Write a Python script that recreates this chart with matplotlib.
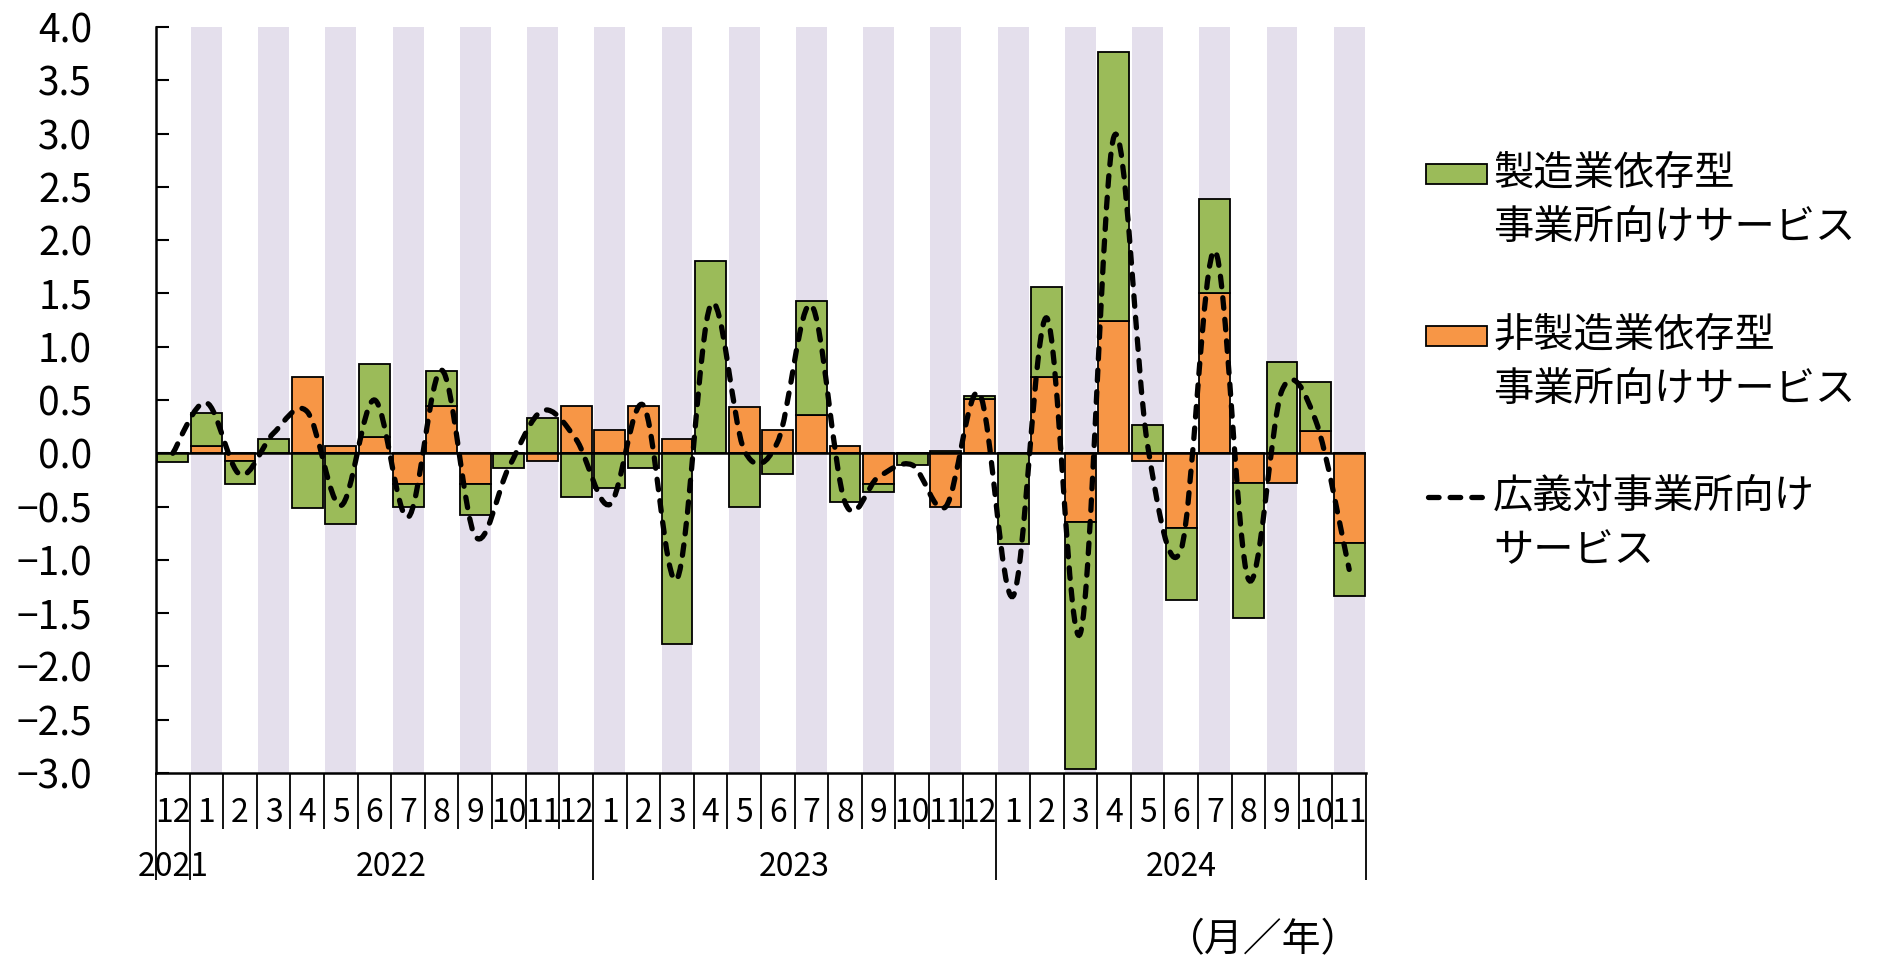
import matplotlib
matplotlib.use('Agg')
from matplotlib import pyplot as plt
from matplotlib import transforms
from matplotlib.path import Path
from matplotlib.patches import PathPatch, Rectangle
from matplotlib.lines import Line2D
import numpy as np

plt.rcParams['font.family'] = ['Noto Sans CJK JP', 'DejaVu Sans']

# months Dec 2021 .. Nov 2024
months = ['12', '1', '2', '3', '4', '5', '6', '7', '8', '9', '10', '11',
          '12', '1', '2', '3', '4', '5', '6', '7', '8', '9', '10', '11',
          '12', '1', '2', '3', '4', '5', '6', '7', '8', '9', '10', '11']
years = ['2021', '2022', '2023', '2024']
year_start = [0, 1, 13, 25, 36]

# non-manufacturing dependent (drawn nearest zero)
non_mfg = [0.0, 0.065, -0.075, 0.0, 0.72, 0.065, 0.15, -0.285, 0.44, -0.285, 0.0, -0.075,
           0.44, 0.215, 0.44, 0.135, 0.0, 0.43, 0.215, 0.36, 0.065, -0.285, 0.0, -0.50,
           0.51, 0.0, 0.72, -0.645, 1.24, -0.07, -0.70, 1.50, -0.28, -0.28, 0.205, -0.845]
# manufacturing dependent
mfg = [-0.08, 0.315, -0.21, 0.135, -0.51, -0.66, 0.685, -0.215, 0.33, -0.295, -0.14, 0.33,
       -0.41, -0.33, -0.14, -1.79, 1.805, -0.50, -0.19, 1.07, -0.46, -0.075, -0.11, 0.02,
       0.03, -0.855, 0.84, -2.315, 2.53, 0.27, -0.68, 0.89, -1.27, 0.855, 0.465, -0.495]
# broad business services total
total = [0.0, 0.475, -0.2, 0.19, 0.39, -0.49, 0.5, -0.6, 0.78, -0.78, -0.13, 0.4,
         0.13, -0.48, 0.45, -1.18, 1.39, 0.03, 0.11, 1.39, -0.46, -0.22, -0.11, -0.5,
         0.56, -1.34, 1.27, -1.69, 2.97, 0.08, -0.9, 1.90, -1.18, 0.59, 0.31, -1.09]

green = '#9BBB59'
orange = '#F79646'
shade = '#E4DFEC'

fig = plt.figure(figsize=(18.89, 9.58), dpi=100)
ax = fig.add_axes([156 / 1889, 1 - 773 / 958, 1210 / 1889, 746 / 958])

x = np.arange(len(months))
ymin, ymax = -3.0, 4.0
bw = 0.92

# alternating shaded columns (odd months)
for i in x:
    if i % 2 == 1:
        ax.bar(i, ymax - ymin, bottom=ymin, width=bw, color=shade, zorder=0, linewidth=0)

non_mfg = np.array(non_mfg)
mfg = np.array(mfg)
gbottom = np.where(np.sign(mfg) == np.sign(non_mfg), non_mfg, 0.0)
ax.bar(x, non_mfg, width=bw, color=orange, edgecolor='black', linewidth=1.3, zorder=2)
ax.bar(x, mfg, bottom=gbottom, width=bw, color=green, edgecolor='black', linewidth=1.3, zorder=2)

ax.axhline(0, color='black', linewidth=1.8, zorder=3)

# smoothed total line (Excel-style Catmull-Rom bezier)
pts = np.column_stack([x, total]).astype(float)
n = len(pts)
verts = [pts[0]]
codes = [Path.MOVETO]
for i in range(n - 1):
    p0 = pts[max(i - 1, 0)]
    p1 = pts[i]
    p2 = pts[i + 1]
    p3 = pts[min(i + 2, n - 1)]
    verts += [p1 + (p2 - p0) / 6, p2 - (p3 - p1) / 6, p2]
    codes += [Path.CURVE4] * 3
line = PathPatch(Path(verts, codes), fill=False, edgecolor='black', linewidth=3.8,
                 linestyle=(0, (2.0, 2.1)), capstyle='round', zorder=4)
ax.add_patch(line)

ax.set_xlim(-0.5, len(months) - 0.5)
ax.set_ylim(ymin, ymax)
ax.set_yticks(np.arange(-3.0, 4.01, 0.5))
ax.yaxis.set_major_formatter(matplotlib.ticker.FuncFormatter(
    lambda v, p: ('%.1f' % v).replace('-', '\u2212')))
ax.tick_params(axis='y', direction='in', length=9, width=1.5, labelsize=28, pad=46)

ax.spines['top'].set_visible(False)
ax.spines['right'].set_visible(False)
ax.spines['left'].set_linewidth(1.8)
ax.spines['bottom'].set_linewidth(1.8)

# month separators and year separators
ax.set_xticks(np.arange(-0.5, len(months) + 0.5, 1.0), minor=True)
ax.set_xticks(np.array(year_start) - 0.5)
ax.set_xticklabels([])
ax.tick_params(axis='x', which='minor', direction='out', length=40, width=1.3)
ax.tick_params(axis='x', which='major', direction='out', length=77, width=1.3)

trans = transforms.blended_transform_factory(ax.transData, ax.transAxes)
for i, m in enumerate(months):
    ax.text(i, -0.054, m, transform=trans, ha='center', va='center', fontsize=23)
for k, yr in enumerate(years):
    cx = (year_start[k] + year_start[k + 1] - 1) / 2
    ax.text(cx, -0.126, yr, transform=trans, ha='center', va='center', fontsize=23)

# legend drawn by hand
def lx(px):
    return px / 1889

def ly(py):
    return 1 - py / 958

labels = ['製造業依存型\n事業所向けサービス', '非製造業依存型\n事業所向けサービス', '広義対事業所向け\nサービス']
first_line = [174, 336, 497]
for k, lab in enumerate(labels):
    yc = first_line[k]
    if k < 2:
        fig.add_artist(Rectangle((lx(1426), ly(yc + 10)), 61 / 1889, 20 / 958,
                                 transform=fig.transFigure, facecolor=[green, orange][k],
                                 edgecolor='black', linewidth=1.3))
    else:
        fig.add_artist(Line2D([lx(1428), lx(1486)], [ly(yc), ly(yc)], transform=fig.transFigure,
                              color='black', linewidth=3.8, linestyle=(0, (2.0, 2.1)),
                              dash_capstyle='round'))
    fig.text(lx(1493), ly(yc - 21), lab, ha='left', va='top', fontsize=29, linespacing=1.4)

fig.text(lx(1263), ly(940), '（月／年）', ha='center', va='center', fontsize=28)

plt.savefig('out.png', dpi=100)
plt.close()
